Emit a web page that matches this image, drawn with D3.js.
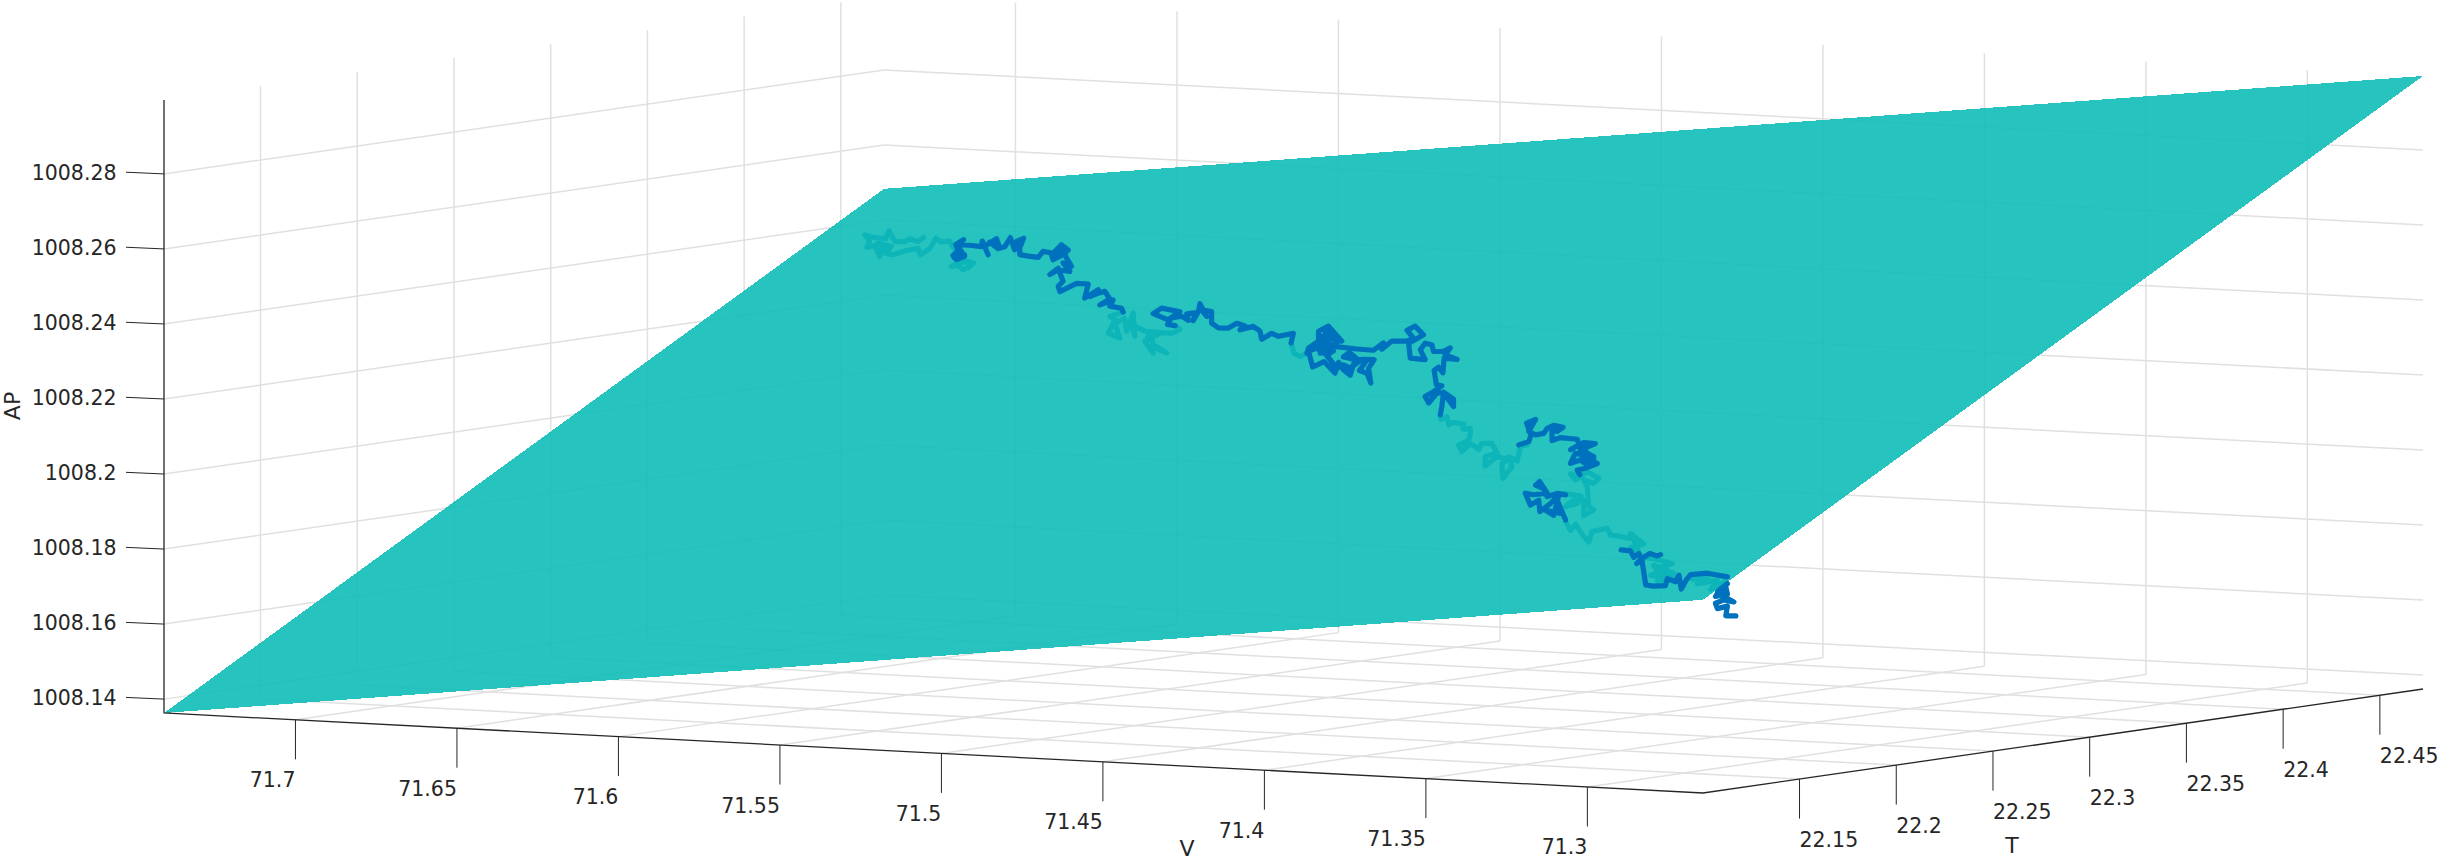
<!DOCTYPE html>
<html>
<head>
<meta charset="utf-8">
<script src="https://cdn.jsdelivr.net/npm/d3@7"></script>
<style>
html,body{margin:0;padding:0;background:#fff;overflow:hidden}
svg{display:block}
text{font-family:"DejaVu Sans",sans-serif;fill:#262626}
</style>
</head>
<body>
<svg id="chart" width="2439" height="861"></svg>
<script>
// ---- axis data ----
const vTicks = [71.7,71.65,71.6,71.55,71.5,71.45,71.4,71.35,71.3];
const tTicks = [22.15,22.2,22.25,22.3,22.35,22.4,22.45];
const apTicks = [1008.14,1008.16,1008.18,1008.2,1008.22,1008.24,1008.26,1008.28];
const vLimits = [71.7407,71.2642];
const tLimits = [22.1001,22.4723];
const apLimits = [1008.1363,1008.2997];

// ---- fitted plane: corners ----
const planeV = [71.7407,71.7407,71.2642,71.2642];
const planeT = [22.1001,22.4723,22.4723,22.1001];
const planeAP = [1008.1363,1008.2483,1008.2997,1008.1878];

// ---- trajectory (T depth is not readable from one view: estimated as one level) ----
const trailT = 22.2862;
// stretches under the plane; null = break
const belowV = [71.6170,71.6187,71.6213,71.6229,71.6259,71.6270,71.6277,71.6287,71.6321,71.6352,71.6337,71.6345,71.6321,71.6306,71.6298,71.6277,71.6311,71.6270,71.6290,71.6265,71.6223,71.6187,71.6180,71.6151,71.6132,71.6118,71.6089,71.6077,71.6068,null,
71.6058,71.6043,71.6015,71.6032,71.6048,71.6063,71.6084,71.6058,71.6037,null,
71.5552,71.5593,71.5577,71.5598,71.5562,71.5577,71.5547,71.5541,71.5521,71.5516,71.5526,71.5469,71.5479,71.5438,71.5485,71.5459,71.5464,71.5417,71.5459,71.5469,71.5402,71.5376,71.5391,null,
71.5032,71.5023,71.5004,71.4978,null,
71.4570,71.4568,71.4549,71.4544,71.4529,71.4498,71.4500,71.4477,71.4477,71.4482,71.4513,71.4503,71.4477,71.4451,71.4441,71.4410,71.4394,71.4431,71.4431,71.4394,71.4361,71.4379,71.4376,71.4348,71.4358,71.4332,71.4322,71.4301,null,
71.4138,71.4167,71.4152,71.4115,71.4079,71.4095,71.4126,71.4115,71.4110,71.4095,71.4126,71.4126,71.4146,71.4182,71.4146,71.4134,71.4188,null,
71.4182,71.4167,71.4151,71.4136,71.4126,71.4110,71.4100,71.4053,71.4043,71.4012,71.3986,71.3981,71.3940,71.3981,71.3958,71.3971,71.3950,71.3914,71.3852,71.3898,71.3847,71.3888,71.3909,71.3867,71.3919,71.3862,71.3898,71.3831,null,
71.3790,71.3743,71.3774,71.3712,71.3733,71.3687,71.3712];
const belowAP = [1008.2547,1008.2536,1008.2542,1008.2533,1008.2533,1008.2550,1008.2560,1008.2539,1008.2540,1008.2546,1008.2530,1008.2513,1008.2519,1008.2491,1008.2523,1008.2507,1008.2526,1008.2519,1008.2500,1008.2497,1008.2510,1008.2518,1008.2501,1008.2518,1008.2547,1008.2538,1008.2541,1008.2523,1008.2533,null,
1008.2497,1008.2491,1008.2486,1008.2473,1008.2467,1008.2478,1008.2474,1008.2488,1008.2487,null,
1008.2376,1008.2363,1008.2354,1008.2318,1008.2306,1008.2345,1008.2360,1008.2325,1008.2375,1008.2313,1008.2344,1008.2323,1008.2306,1008.2325,1008.2301,1008.2271,1008.2289,1008.2273,1008.2293,1008.2328,1008.2326,1008.2338,1008.2347,null,
1008.2317,1008.2290,1008.2282,1008.2294,null,
1008.2146,1008.2134,1008.2143,1008.2120,1008.2128,1008.2125,1008.2111,1008.2114,1008.2101,1008.2082,1008.2068,1008.2051,1008.2074,1008.2059,1008.2076,1008.2077,1008.2052,1008.2041,1008.2016,1008.2043,1008.2037,1008.2025,1008.1985,1008.2018,1008.2044,1008.2034,1008.2073,1008.2078,null,
1008.2006,1008.2007,1008.1991,1008.2015,1008.1999,1008.1985,1008.1993,1008.1975,1008.1922,1008.1914,1008.1897,1008.1939,1008.1947,1008.1919,1008.1929,1008.1949,1008.1954,null,
1008.1879,1008.1856,1008.1873,1008.1854,1008.1842,1008.1828,1008.1856,1008.1867,1008.1849,1008.1847,1008.1843,1008.1856,1008.1830,1008.1819,1008.1809,1008.1840,1008.1795,1008.1793,1008.1782,1008.1767,1008.1756,1008.1745,1008.1775,1008.1764,1008.1748,1008.1739,1008.1732,1008.1746,null,
1008.1743,1008.1750,1008.1732,1008.1744,1008.1718,1008.1741,1008.1716];
// stretches above the plane; null = break
const aboveV = [71.6074,71.6079,71.6058,71.6043,71.6068,71.6053,71.6068,71.6043,71.6063,71.6070,71.6046,71.6063,71.6027,71.5991,71.5988,71.5970,71.5981,71.5944,71.5934,71.5965,71.5939,71.5918,71.5901,71.5888,71.5882,71.5860,71.5872,71.5872,71.5846,71.5815,71.5800,71.5769,71.5743,71.5722,71.5738,71.5769,71.5774,71.5738,71.5727,71.5712,71.5738,71.5717,71.5753,71.5779,71.5753,71.5738,71.5753,71.5748,71.5696,71.5660,71.5671,71.5629,71.5655,71.5629,71.5609,71.5593,71.5624,71.5583,71.5593,71.5557,71.5552,null,
71.5391,71.5415,71.5407,71.5459,71.5433,71.5376,71.5407,71.5371,71.5350,71.5355,71.5329,71.5335,71.5319,71.5314,71.5293,71.5309,71.5278,71.5278,71.5257,71.5226,71.5200,71.5175,71.5190,71.5149,71.5128,71.5123,71.5092,71.5071,71.5025,71.5032,null,
71.4983,71.4978,71.4947,71.4947,71.4916,71.4875,71.4937,71.4901,71.4942,71.4901,71.4932,71.4890,71.4921,71.4947,71.4911,71.4942,71.4978,71.4965,71.4930,71.4896,71.4885,71.4870,71.4849,71.4834,71.4870,71.4851,71.4826,71.4797,71.4820,71.4797,71.4785,71.4792,71.4775,71.4813,71.4849,71.4870,71.4890,71.4932,71.4901,71.4828,71.4777,71.4746,71.4751,71.4720,71.4673,71.4653,71.4673,71.4648,71.4622,71.4648,71.4668,71.4663,71.4617,71.4632,71.4617,71.4596,71.4591,71.4560,71.4539,71.4555,71.4518,71.4558,71.4562,71.4575,71.4589,71.4582,71.4565,71.4591,71.4617,71.4606,71.4580,71.4560,71.4529,71.4529,71.4560,71.4565,71.4570,null,
71.4327,71.4296,71.4289,71.4303,71.4275,71.4296,71.4275,71.4250,71.4239,71.4219,71.4190,71.4208,71.4224,71.4224,71.4198,71.4146,71.4141,71.4167,71.4126,71.4090,71.4136,71.4095,71.4152,71.4167,71.4136,71.4115,71.4095,71.4126,71.4110,71.4131,71.4084,71.4120,71.4146,71.4138,null,
71.4182,71.4208,71.4239,71.4250,71.4275,71.4262,71.4239,71.4281,71.4307,71.4291,71.4265,71.4262,71.4229,71.4203,71.4219,71.4245,71.4198,71.4208,71.4182,null,
71.4010,71.3981,71.3971,71.3955,71.3945,71.3962,71.3945,71.3921,71.3900,71.3888,null,
71.3945,71.3934,71.3909,71.3873,71.3867,71.3841,71.3831,71.3824,71.3807,71.3795,71.3743,71.3681,null,
71.3681,71.3707,71.3718,71.3681,71.3686,71.3702,71.3661,71.3692,71.3718,71.3712,71.3681,71.3686,71.3655];
const aboveAP = [1008.2497,1008.2503,1008.2522,1008.2503,1008.2493,1008.2510,1008.2497,1008.2507,1008.2519,1008.2533,1008.2547,1008.2533,1008.2533,1008.2531,1008.2546,1008.2510,1008.2532,1008.2554,1008.2530,1008.2544,1008.2528,1008.2534,1008.2559,1008.2527,1008.2550,1008.2559,1008.2533,1008.2515,1008.2512,1008.2510,1008.2527,1008.2523,1008.2547,1008.2534,1008.2521,1008.2506,1008.2519,1008.2534,1008.2512,1008.2491,1008.2499,1008.2477,1008.2480,1008.2466,1008.2484,1008.2450,1008.2436,1008.2422,1008.2446,1008.2446,1008.2408,1008.2432,1008.2413,1008.2423,1008.2429,1008.2409,1008.2392,1008.2407,1008.2390,1008.2386,1008.2376,null,
1008.2347,1008.2349,1008.2360,1008.2376,1008.2392,1008.2385,1008.2366,1008.2373,1008.2363,1008.2380,1008.2384,1008.2363,1008.2388,1008.2409,1008.2376,1008.2393,1008.2390,1008.2359,1008.2347,1008.2348,1008.2362,1008.2356,1008.2345,1008.2356,1008.2344,1008.2323,1008.2340,1008.2333,1008.2343,1008.2317,null,
1008.2292,1008.2306,1008.2326,1008.2352,1008.2367,1008.2329,1008.2339,1008.2301,1008.2294,1008.2350,1008.2312,1008.2323,1008.2358,1008.2303,1008.2295,1008.2312,1008.2297,1008.2256,1008.2272,1008.2243,1008.2272,1008.2253,1008.2239,1008.2282,1008.2287,1008.2300,1008.2282,1008.2283,1008.2253,1008.2247,1008.2221,1008.2260,1008.2284,1008.2283,1008.2258,1008.2266,1008.2256,1008.2299,1008.2314,1008.2310,1008.2309,1008.2330,1008.2313,1008.2336,1008.2338,1008.2347,1008.2367,1008.2379,1008.2357,1008.2343,1008.2333,1008.2293,1008.2291,1008.2317,1008.2335,1008.2332,1008.2314,1008.2316,1008.2326,1008.2307,1008.2296,1008.2298,1008.2258,1008.2273,1008.2264,1008.2226,1008.2224,1008.2207,1008.2193,1008.2176,1008.2204,1008.2205,1008.2170,1008.2190,1008.2207,1008.2169,1008.2146,null,
1008.2077,1008.2087,1008.2105,1008.2136,1008.2147,1008.2114,1008.2106,1008.2111,1008.2125,1008.2134,1008.2130,1008.2118,1008.2125,1008.2093,1008.2102,1008.2100,1008.2085,1008.2071,1008.2092,1008.2091,1008.2072,1008.2056,1008.2062,1008.2035,1008.2045,1008.2033,1008.2051,1008.2073,1008.2037,1008.2058,1008.2038,1008.2024,1008.2018,1008.2006,null,
1008.1950,1008.1953,1008.1943,1008.1964,1008.1972,1008.1982,1008.1952,1008.1946,1008.1949,1008.1918,1008.1932,1008.1902,1008.1925,1008.1949,1008.1894,1008.1907,1008.1900,1008.1935,1008.1883,null,
1008.1811,1008.1810,1008.1793,1008.1804,1008.1786,1008.1777,1008.1792,1008.1806,1008.1800,1008.1804,null,
1008.1783,1008.1721,1008.1719,1008.1722,1008.1741,1008.1734,1008.1752,1008.1715,1008.1742,1008.1755,1008.1761,1008.1754,null,
1008.1736,1008.1717,1008.1700,1008.1708,1008.1727,1008.1705,1008.1688,1008.1692,1008.1682,1008.1668,1008.1676,1008.1650,1008.1651];

// ---- scales and oblique view ----
const uScale = d3.scaleLinear().domain(vLimits).range([0,1]);
const wScale = d3.scaleLinear().domain(tLimits).range([0,1]);
const zScale = d3.scaleLinear().domain(apLimits).range([0,-613]);
const origin = [164,713], uAxis = [1539,80], wAxis = [720,-104];
function project(V,T,AP){
  const u = uScale(V), w = wScale(T);
  return [origin[0]+uAxis[0]*u+wAxis[0]*w, origin[1]+uAxis[1]*u+wAxis[1]*w+zScale(AP)];
}

const svg = d3.select("#chart");
const pathGen = d3.line().defined(d=>d!==null);
const [vA,vB]=vLimits,[tA,tB]=tLimits,[zA,zB]=apLimits;

// ---- grid ----
const gridSegs = [];
vTicks.forEach(v=>{
  gridSegs.push([project(v,tA,zA),project(v,tB,zA)]);
  gridSegs.push([project(v,tB,zA),project(v,tB,zB)]);
});
tTicks.forEach(t=>{
  gridSegs.push([project(vA,t,zA),project(vB,t,zA)]);
  gridSegs.push([project(vA,t,zA),project(vA,t,zB)]);
});
apTicks.forEach(z=>{
  gridSegs.push([project(vA,tA,z),project(vA,tB,z)]);
  gridSegs.push([project(vA,tB,z),project(vB,tB,z)]);
});
svg.append("g").selectAll("path").data(gridSegs).join("path")
  .attr("d",d=>pathGen(d)).attr("fill","none")
  .attr("stroke","#e0e0e0").attr("stroke-width",1.5);

// ---- trajectory ----
function trailPts(Vs,APs){return Vs.map((v,i)=>v===null?null:project(v,trailT,APs[i]));}
function drawTrail(Vs,APs){
  svg.append("path").attr("d",pathGen(trailPts(Vs,APs)))
    .attr("fill","none").attr("stroke","#0072BD").attr("stroke-width",5.2)
    .attr("stroke-linejoin","round").attr("stroke-linecap","round");
}
drawTrail(belowV,belowAP);

// ---- plane ----
svg.append("path")
  .attr("d",pathGen(planeV.map((v,i)=>project(v,planeT[i],planeAP[i])))+"Z")
  .attr("fill","rgb(16,189,183)").attr("fill-opacity",0.9)
  .attr("shape-rendering","crispEdges");

drawTrail(aboveV,aboveAP);

// ---- axes ----
const axisPaths = [
  [project(vA,tA,zB),project(vA,tA,zA),project(vB,tA,zA),project(vB,tB,zA)]
];
svg.append("g").selectAll("path").data(axisPaths).join("path")
  .attr("d",d=>pathGen(d)).attr("fill","none")
  .attr("stroke","#262626").attr("stroke-width",1.3);

const axisG = svg.append("g");
const tickLen = 39.5, fontSize = 20.5;
function tick(p0,p1){
  axisG.append("line").attr("x1",p0[0]).attr("y1",p0[1]).attr("x2",p1[0]).attr("y2",p1[1])
    .attr("stroke","#262626").attr("stroke-width",1);
}
apTicks.forEach(z=>{
  const p=project(vA,tA,z);
  tick(p,[p[0]-38,p[1]-1.7]);
  axisG.append("text").attr("x",p[0]-47.5).attr("y",p[1]+6)
    .attr("text-anchor","end").attr("font-size",fontSize).text(String(z));
});
vTicks.forEach(v=>{
  const p=project(v,tA,zA);
  tick(p,[p[0],p[1]+tickLen]);
  axisG.append("text").attr("x",p[0]).attr("y",p[1]+tickLen+28)
    .attr("text-anchor","end").attr("font-size",fontSize).text(String(v));
});
tTicks.forEach(t=>{
  const p=project(vB,t,zA);
  tick(p,[p[0],p[1]+tickLen]);
  axisG.append("text").attr("x",p[0]).attr("y",p[1]+tickLen+28)
    .attr("text-anchor","start").attr("font-size",fontSize).text(String(t));
});
const labelSize = 22;
axisG.append("text").attr("x",1187).attr("y",855.5).attr("text-anchor","middle").attr("font-size",labelSize).text("V");
axisG.append("text").attr("x",2012).attr("y",853).attr("text-anchor","middle").attr("font-size",labelSize).text("T");
axisG.append("text").attr("transform","translate(20,406) rotate(-90)").attr("text-anchor","middle").attr("font-size",labelSize).text("AP");
</script>
</body>
</html>
